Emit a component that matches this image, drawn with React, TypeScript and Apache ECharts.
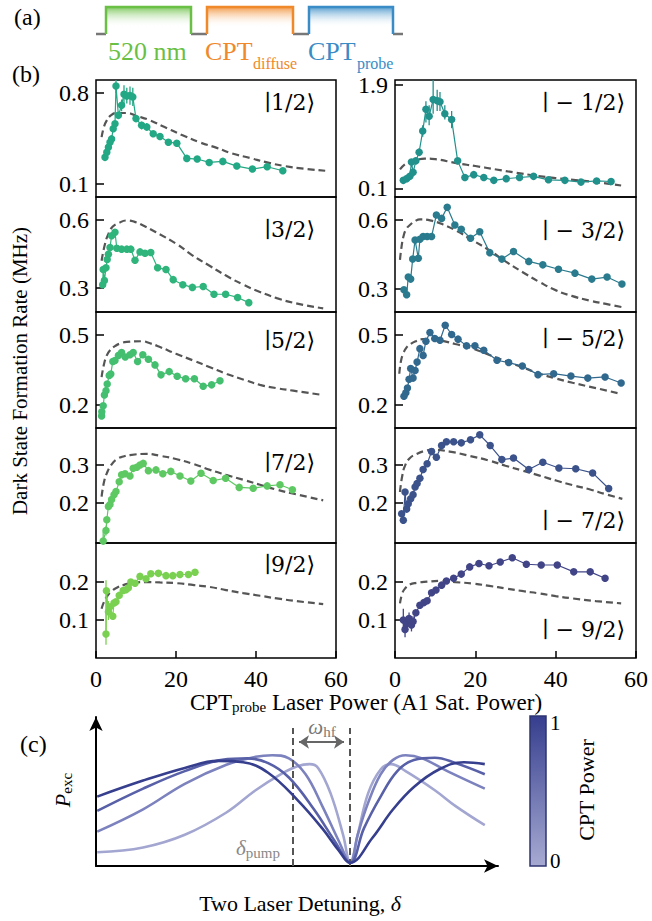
import React, { useEffect, useRef } from "react";
import * as echarts from "echarts";

const FONT = "'Liberation Serif','DejaVu Serif','Times New Roman',serif";

// ---------- x axis ----------
const xTickValues = [0, 20, 40, 60];

// ---------- measured dark state formation rates [power, MHz] ----------
const m_1_2 = [[2.25,0.305],[2.7,0.344],[3.1,0.383],[3.5,0.421],[3.9,0.447],[4.3,0.525],[4.75,0.564],[5.0,0.853],[5.6,0.628],[6.4,0.706],[7.0,0.79],[7.7,0.776],[8.5,0.78],[9.2,0.77],[10,0.603],[11.4,0.551],[12.7,0.538],[14.3,0.486],[16,0.466],[18.1,0.421],[20.2,0.414],[22.7,0.297],[25.3,0.292],[28.3,0.266],[31.7,0.274],[35.2,0.238],[39.1,0.215],[42.8,0.233],[46.7,0.202]];
const m_m1_2 = [[2.07,0.24],[2.9,0.27],[3.7,0.31],[4.1,0.56],[4.5,0.38],[5.2,0.58],[6.0,0.73],[6.9,1.10],[7.7,1.48],[8.5,1.36],[9.5,1.65],[10.5,1.63],[11.2,1.61],[12.4,1.40],[14.1,1.30],[15.6,0.58],[17.4,0.29],[19.6,0.34],[22.1,0.29],[24.6,0.24],[27.7,0.27],[31.0,0.29],[34.5,0.31],[38.2,0.25],[42.3,0.24],[46.3,0.21],[50.2,0.23],[53.8,0.22]];
const m_3_2 = [[1.67,0.315],[1.8,0.382],[2.1,0.333],[2.5,0.389],[2.8,0.426],[3.1,0.449],[3.5,0.478],[3.9,0.530],[4.75,0.545],[5.2,0.475],[6.4,0.471],[7.7,0.471],[8.7,0.471],[9.75,0.422],[11,0.459],[12.25,0.453],[13.7,0.456],[15.4,0.389],[17.5,0.382],[19.3,0.337],[21.7,0.315],[24.1,0.303],[26.8,0.307],[29.5,0.273],[32.4,0.273],[35.4,0.259],[38.2,0.236]];
const m_m3_2 = [[2.23,0.297],[2.9,0.275],[3.3,0.352],[3.9,0.343],[4.4,0.430],[5.0,0.513],[5.8,0.434],[6.2,0.516],[7.0,0.528],[8.0,0.528],[9.1,0.528],[10.3,0.622],[11.6,0.607],[13.0,0.655],[14.9,0.578],[16.5,0.560],[18.8,0.521],[21.1,0.549],[23.6,0.458],[26.6,0.430],[29.5,0.463],[33.3,0.420],[36.8,0.405],[40.7,0.386],[44.8,0.369],[49.0,0.343],[52.8,0.352],[56.5,0.322]];
const m_5_2 = [[1.4,0.152],[1.45,0.17],[1.8,0.196],[2.1,0.242],[2.5,0.261],[2.8,0.29],[3.3,0.326],[3.7,0.333],[4.2,0.387],[4.75,0.391],[5.6,0.413],[6.4,0.425],[7.3,0.406],[8.5,0.416],[9.3,0.425],[10.4,0.387],[11.7,0.416],[13.1,0.396],[14.75,0.372],[16.25,0.329],[18.3,0.343],[20.3,0.323],[22.4,0.312],[24.6,0.312],[26.8,0.28],[28.9,0.286],[31,0.304]];
const m_m5_2 = [[2.23,0.237],[2.7,0.252],[3.1,0.272],[3.5,0.31],[3.9,0.356],[4.5,0.315],[5.0,0.348],[5.5,0.384],[6.2,0.442],[7.0,0.413],[7.7,0.474],[8.7,0.512],[9.9,0.486],[11.2,0.478],[12.5,0.543],[14.1,0.503],[15.7,0.483],[17.8,0.454],[19.9,0.454],[22.1,0.435],[25.4,0.392],[28.3,0.382],[31.7,0.367],[35.6,0.33],[39.5,0.334],[43.8,0.324],[48.0,0.315],[52.3,0.32],[56.3,0.294]];
const m_7_2 = [[1.8,0.10],[2.5,0.128],[2.7,0.156],[3.1,0.191],[3.5,0.196],[3.9,0.209],[4.5,0.222],[5.0,0.23],[5.8,0.256],[6.4,0.274],[7.25,0.277],[8.5,0.271],[9.3,0.291],[10.2,0.294],[11,0.30],[11.8,0.304],[13.1,0.285],[15,0.287],[16.7,0.277],[18.7,0.283],[21,0.271],[23.7,0.258],[26.25,0.278],[29.3,0.259],[32.4,0.265],[35.8,0.241],[39.3,0.239],[42.8,0.245],[46,0.248],[49.1,0.235]];
const m_m7_2 = [[1.65,0.171],[2.07,0.154],[2.5,0.228],[2.9,0.183],[3.3,0.197],[3.9,0.21],[4.5,0.221],[5.0,0.241],[5.5,0.25],[6.2,0.264],[7.0,0.287],[8.0,0.302],[9.1,0.334],[10.3,0.319],[11.6,0.35],[12.8,0.36],[14.6,0.36],[16.5,0.357],[18.8,0.365],[21.1,0.378],[23.7,0.35],[26.6,0.313],[29.5,0.317],[33.3,0.287],[36.8,0.306],[40.8,0.291],[45,0.289],[49.2,0.278],[53.2,0.237]];
const m_9_2 = [[2.5,0.063],[2.6,0.177],[3.1,0.122],[3.5,0.135],[4.2,0.11],[4.5,0.145],[5.0,0.148],[5.8,0.165],[6.8,0.178],[7.5,0.18],[8.1,0.185],[8.7,0.20],[9.75,0.197],[11,0.215],[12.5,0.209],[13.7,0.222],[15.6,0.223],[17.5,0.217],[19.2,0.217],[21,0.22],[23.1,0.22],[24.75,0.226]];
const m_m9_2 = [[2.07,0.1],[2.5,0.075],[2.9,0.091],[3.5,0.104],[4.1,0.087],[4.5,0.096],[5.2,0.119],[6.2,0.139],[7.2,0.146],[8.0,0.151],[9.1,0.172],[10.2,0.179],[11.6,0.192],[12.8,0.203],[14.6,0.21],[16.5,0.221],[18.6,0.24],[20.9,0.249],[23.4,0.243],[26.2,0.253],[29.2,0.264],[32.7,0.247],[36.4,0.245],[40.4,0.245],[44.5,0.227],[48.6,0.227],[52.3,0.21]];

// ---------- error bars [power, low, high] ----------
const e_1_2 = [[5.0,0.80,0.90],[6.4,0.66,0.75],[7.0,0.72,0.86],[7.7,0.72,0.84],[8.5,0.71,0.85],[9.2,0.70,0.84],[11.4,0.52,0.58],[12.7,0.51,0.57]];
const e_m1_2 = [[5.2,0.52,0.64],[6.0,0.66,0.80],[6.9,1.0,1.2],[7.7,1.25,1.62],[8.5,1.2,1.55],[9.5,1.4,2.0],[10.5,1.45,1.82],[11.2,1.45,1.78],[12.4,1.3,1.55],[14.1,1.15,1.45]];
const e_7_2 = [[1.8,0.09,0.125],[2.5,0.115,0.14]];
const e_9_2 = [[2.5,0.035,0.205],[3.1,0.1,0.15]];
const e_m9_2 = [[2.07,0.07,0.13],[2.5,0.055,0.1],[2.9,0.07,0.11],[3.5,0.085,0.12],[4.1,0.07,0.1],[4.5,0.08,0.11]];

// ---------- theory (dashed) ----------
const th_1_2 = [[1.4,0.46],[2,0.54],[2.7,0.59],[3.8,0.63],[5.2,0.646],[7.7,0.646],[10,0.625],[13.5,0.59],[17,0.54],[21.8,0.473],[26,0.42],[30.2,0.378],[34,0.335],[38.5,0.30],[42.5,0.268],[46.8,0.24],[52,0.218],[57.3,0.202]];
const th_m1_2 = [[1.24,0.43],[2.5,0.52],[3.7,0.56],[5.5,0.60],[7.4,0.62],[10,0.61],[15.3,0.54],[20,0.49],[25.2,0.43],[30,0.375],[35.2,0.32],[40,0.28],[45.9,0.24],[51,0.2],[56.3,0.15]];
const th_3_2 = [[1.4,0.42],[2.2,0.49],[3.1,0.538],[4.2,0.57],[5.6,0.585],[7.7,0.597],[9.5,0.592],[11.8,0.575],[15,0.545],[20.2,0.493],[24,0.445],[28.5,0.397],[32.5,0.355],[36.8,0.315],[41,0.283],[45.2,0.256],[50,0.233],[56.8,0.211]];
const th_m3_2 = [[1.24,0.427],[1.6,0.48],[2.1,0.528],[2.8,0.56],[3.7,0.578],[5,0.595],[6.2,0.603],[9.1,0.597],[12,0.58],[15.3,0.553],[19.5,0.51],[23.6,0.467],[27.5,0.42],[31.8,0.373],[36,0.33],[40.1,0.294],[44,0.27],[48.4,0.25],[52.5,0.235],[56.6,0.221]];
const th_5_2 = [[1.4,0.319],[2,0.375],[2.7,0.413],[3.6,0.437],[4.75,0.453],[6,0.464],[7.7,0.471],[11.4,0.474],[13.5,0.465],[16,0.449],[20,0.42],[24.3,0.391],[28.5,0.362],[32.7,0.333],[37,0.308],[41,0.286],[45,0.272],[49.3,0.261],[56.8,0.242]];
const th_m5_2 = [[1.07,0.334],[1.5,0.39],[2.06,0.421],[2.8,0.445],[3.7,0.46],[5,0.473],[7.0,0.483],[9,0.483],[11.2,0.478],[15,0.462],[19.4,0.442],[23.5,0.415],[27.7,0.387],[32,0.36],[36,0.334],[40,0.314],[44.2,0.295],[50,0.272],[56.3,0.247]];
const th_7_2 = [[1.4,0.217],[2,0.255],[2.7,0.278],[3.8,0.3],[5.2,0.315],[6.8,0.322],[8.5,0.326],[12.7,0.329],[16,0.324],[20.2,0.315],[24.5,0.302],[28.5,0.287],[32.5,0.274],[36.8,0.261],[41,0.248],[45.2,0.235],[50,0.223],[56.8,0.207]];
const th_m7_2 = [[1.24,0.228],[1.8,0.27],[2.5,0.297],[3.6,0.316],[5.4,0.328],[7.5,0.336],[9.5,0.339],[13.6,0.334],[18.5,0.323],[23.6,0.31],[27.5,0.297],[31.8,0.284],[36,0.271],[40.1,0.258],[44.2,0.246],[48.4,0.235],[52.5,0.222],[56.6,0.21]];
const th_9_2 = [[1.4,0.13],[2,0.148],[2.7,0.161],[3.8,0.175],[5.2,0.185],[6.8,0.192],[8.5,0.197],[12.7,0.20],[16,0.199],[20.2,0.197],[24.5,0.192],[28.5,0.187],[32.5,0.179],[36.8,0.171],[41,0.164],[45.2,0.157],[50,0.15],[56.8,0.142]];
const th_m9_2 = [[1.24,0.144],[1.8,0.17],[2.5,0.183],[3.6,0.193],[5.4,0.198],[8,0.201],[11.2,0.203],[15,0.2],[19.4,0.196],[23.5,0.19],[27.7,0.183],[32,0.176],[36,0.17],[40,0.163],[44.2,0.157],[50,0.15],[56.3,0.144]];

// ---------- y ticks per panel ----------
const yt_1_2 = [0.1, 0.8];
const yt_m1_2 = [0.1, 1.9];
const yt_3_2 = [0.3, 0.6];
const yt_5_2 = [0.2, 0.5];
const yt_7_2 = [0.2, 0.3];
const yt_9_2 = [0.1, 0.2];

// ---------- state labels ----------
const stateLabels = ["1/2", " − 1/2", "3/2", " − 3/2", "5/2", " − 5/2", "7/2", " − 7/2", "9/2", " − 9/2"];

// ---------- panel (c) schematic curves [detuning, P_exc] (low -> high CPT power) ----------
const c_p0 = [[1.25,13.7],[47.1,18.5],[88.8,31.2],[130.4,53.5],[159.6,75.8],[184.6,91.7],[201.3,99.7],[213.8,101.9],[222.1,98.1],[234.6,72.6],[247.1,31.2],[254.2,3.2],[261.7,31.2],[272.1,72.6],[284.6,96.5],[295.0,101.9],[309.6,94.9],[338.8,75.8],[359.6,59.9],[388.8,40.8]];
const c_p1 = [[1.25,34.4],[47.1,56.7],[88.8,82.2],[130.4,101.3],[159.6,109.2],[176.3,110.8],[192.9,107.6],[209.6,91.7],[226.3,59.9],[242.9,24.8],[254.2,3.2],[261.7,31.2],[272.1,63.1],[284.6,91.7],[297.1,106.1],[309.6,110.8],[326.3,107.6],[351.3,94.9],[388.8,77.4]];
const c_p2 = [[1.25,55.1],[47.1,77.4],[88.8,94.9],[126.3,106.1],[151.3,107.6],[172.1,102.9],[192.9,88.5],[217.9,56.7],[238.8,24.8],[254.2,3.2],[267.9,37.6],[284.6,69.4],[301.3,94.9],[317.9,106.1],[338.8,108.3],[359.6,102.9],[388.8,91.7]];
const c_p3 = [[1.25,69.4],[47.1,85.4],[88.8,98.1],[122.1,105.1],[147.1,103.8],[172.1,93.3],[201.3,66.2],[226.3,37.6],[242.9,15.3],[254.2,3.2],[276.3,28],[297.1,56.7],[317.9,79],[342.9,96.5],[367.9,103.8],[388.8,101.9]];
const c_pumpX = 197;
const c_dipX = 254;
const cbTicks = ["1", "0"];

function buildOption() {
  const rowTop = [80, 197, 312, 428, 543];
  const rowH = [117, 115, 116, 115, 115];
  const colLeft = [96, 395];
  const colW = [240, 241];

  const panels = [
    { m: m_1_2, th: th_1_2, e: e_1_2, color: "#22a884", yMin: 0, yMax: 0.9, yt: yt_1_2, row: 0, col: 0, ly: 102 },
    { m: m_m1_2, th: th_m1_2, e: e_m1_2, color: "#21918c", yMin: -0.05, yMax: 1.99, yt: yt_m1_2, row: 0, col: 1, ly: 102 },
    { m: m_3_2, th: th_3_2, e: [], color: "#2fb47c", yMin: 0.195, yMax: 0.7, yt: yt_3_2, row: 1, col: 0, ly: 229 },
    { m: m_m3_2, th: th_m3_2, e: [], color: "#2a7b8e", yMin: 0.2, yMax: 0.7, yt: yt_3_2, row: 1, col: 1, ly: 230 },
    { m: m_5_2, th: th_5_2, e: [], color: "#44bf70", yMin: 0.1, yMax: 0.6, yt: yt_5_2, row: 2, col: 0, ly: 340 },
    { m: m_m5_2, th: th_m5_2, e: [], color: "#31688e", yMin: 0.1, yMax: 0.6, yt: yt_5_2, row: 2, col: 1, ly: 338 },
    { m: m_7_2, th: th_7_2, e: e_7_2, color: "#5ec962", yMin: 0.095, yMax: 0.397, yt: yt_7_2, row: 3, col: 0, ly: 462 },
    { m: m_m7_2, th: th_m7_2, e: [], color: "#3b528b", yMin: 0.094, yMax: 0.396, yt: yt_7_2, row: 3, col: 1, ly: 520 },
    { m: m_9_2, th: th_9_2, e: e_9_2, color: "#7ad151", yMin: 0, yMax: 0.303, yt: yt_9_2, row: 4, col: 0, ly: 564 },
    { m: m_m9_2, th: th_m9_2, e: e_m9_2, color: "#414487", yMin: 0, yMax: 0.303, yt: yt_9_2, row: 4, col: 1, ly: 629 },
  ];

  const grids: any[] = [];
  const xAxes: any[] = [];
  const yAxes: any[] = [];
  const series: any[] = [];
  const graphics: any[] = [];

  panels.forEach((p, i) => {
    grids.push({
      left: colLeft[p.col], top: rowTop[p.row], width: colW[p.col], height: rowH[p.row],
      show: true, borderColor: "#000", borderWidth: 1.5, backgroundColor: "transparent",
    });
    const bottom = p.row === 4;
    xAxes.push({
      gridIndex: i, type: "value", min: 0, max: 60, interval: 20,
      axisLine: { show: false }, splitLine: { show: false },
      axisTick: { show: bottom, inside: true, length: 7, customValues: xTickValues, lineStyle: { color: "#000", width: 1.5 } },
      axisLabel: { show: bottom, customValues: xTickValues, fontSize: 24, fontFamily: FONT, color: "#000", margin: 9 },
    });
    yAxes.push({
      gridIndex: i, type: "value", min: p.yMin, max: p.yMax,
      axisLine: { show: false }, splitLine: { show: false },
      axisTick: { show: true, inside: true, length: 8, customValues: p.yt, lineStyle: { color: "#000", width: 1.5 } },
      axisLabel: { customValues: p.yt, fontSize: 24, fontFamily: FONT, color: "#000", margin: 7, formatter: (v: number) => String(v) },
    });
    series.push({
      type: "line", xAxisIndex: i, yAxisIndex: i, data: p.th, smooth: 0.5, showSymbol: false, symbol: "none",
      lineStyle: { color: "#555", width: 2.2, type: [7, 4] }, z: 2, silent: true,
    });
    if (p.e.length) {
      const col = p.color;
      series.push({
        type: "custom", xAxisIndex: i, yAxisIndex: i, data: p.e, clip: true, z: 3, silent: true,
        encode: { x: 0, y: [1, 2] },
        renderItem: (params: any, api: any) => {
          const a = api.coord([api.value(0), api.value(1)]);
          const b = api.coord([api.value(0), api.value(2)]);
          return { type: "line", shape: { x1: a[0], y1: a[1], x2: b[0], y2: b[1] }, style: { stroke: col, lineWidth: 1.3 } };
        },
      });
    }
    series.push({
      type: "line", xAxisIndex: i, yAxisIndex: i, data: p.m, symbol: "circle", symbolSize: 7.5, showSymbol: true,
      itemStyle: { color: p.color }, lineStyle: { color: p.color, width: 1.2 }, z: 4, silent: true,
    });
    graphics.push({
      type: "text", x: p.col === 0 ? 315 : 625, y: p.ly, z: 10,
      style: {
        text: "{k|\u2223" + stateLabels[i] + "\u27E9}", textAlign: "right", textVerticalAlign: "middle",
        rich: { k: { fontSize: 22, fontFamily: "'DejaVu Serif','Liberation Serif',serif", fill: "#000" } },
      },
    });
  });

  // ---------- panel (c) ----------
  const ci = panels.length;
  grids.push({ left: 96, top: 717, width: 402, height: 149, show: false });
  xAxes.push({
    gridIndex: ci, type: "value", min: 0, max: 402,
    axisLine: { show: true, onZero: false, symbol: ["none", "arrow"], symbolSize: [10, 14], lineStyle: { color: "#000", width: 2 } },
    axisTick: { show: false }, axisLabel: { show: false }, splitLine: { show: false },
  });
  yAxes.push({
    gridIndex: ci, type: "value", min: 0, max: 149,
    axisLine: { show: true, onZero: false, symbol: ["none", "arrow"], symbolSize: [10, 14], lineStyle: { color: "#000", width: 2 } },
    axisTick: { show: false }, axisLabel: { show: false }, splitLine: { show: false },
  });
  const cColors = ["#a2a6d0", "#7c82be", "#5860a8", "#363e8e"];
  [c_p0, c_p1, c_p2, c_p3].forEach((d, k) => {
    const s: any = {
      type: "line", xAxisIndex: ci, yAxisIndex: ci, data: d, smooth: 0.4, showSymbol: false, symbol: "none",
      lineStyle: { color: cColors[k], width: 2.6 }, z: 3 + k, silent: true,
    };
    if (k === 0) {
      s.markLine = {
        silent: true, symbol: "none", animation: false, label: { show: false },
        lineStyle: { type: [7, 4], color: "#555", width: 2 },
        data: [
          [{ coord: [c_pumpX, 0] }, { coord: [c_pumpX, 138] }],
          [{ coord: [c_dipX, 0] }, { coord: [c_dipX, 138] }],
        ],
      };
    }
    if (k === 1) {
      s.markLine = {
        silent: true, symbol: ["arrow", "arrow"], symbolSize: 10, animation: false, label: { show: false },
        lineStyle: { type: "solid", color: "#666", width: 2.2 },
        data: [[{ coord: [c_pumpX + 6, 124] }, { coord: [c_dipX - 6, 124] }]],
      };
    }
    series.push(s);
  });

  // ---------- (a) pulse sequence ----------
  const pulses = [
    { x0: 106, x1: 191, color: "#6abf45", rgba: "rgba(106,191,69,0.85)" },
    { x0: 207, x1: 293, color: "#f0892a", rgba: "rgba(240,137,42,0.85)" },
    { x0: 309, x1: 393, color: "#3a8cc6", rgba: "rgba(58,140,198,0.85)" },
  ];
  const baseY = 34, topY = 7;
  const segs = [[96, 106], [191, 207], [293, 309], [393, 403]];
  segs.forEach(([a, b]) => graphics.push({ type: "line", shape: { x1: a, y1: baseY, x2: b, y2: baseY }, style: { stroke: "#777", lineWidth: 2.5 } }));
  pulses.forEach((p) => {
    graphics.push({
      type: "rect", shape: { x: p.x0, y: topY, width: p.x1 - p.x0, height: baseY - topY },
      style: { fill: { type: "linear", x: 0, y: 0, x2: 0, y2: 1, colorStops: [{ offset: 0, color: p.rgba }, { offset: 0.75, color: "rgba(255,255,255,0)" }] } },
    });
    graphics.push({
      type: "polyline", shape: { points: [[p.x0, baseY], [p.x0, topY], [p.x1, topY], [p.x1, baseY]] },
      style: { stroke: p.color, lineWidth: 2.5, fill: null },
    });
  });
  const txt = (x: number, y: number, text: string, size: number, fill: string, extra: any = {}) => ({
    type: "text", x, y, z: 10,
    style: { text, fontSize: size, fontFamily: FONT, fill, textAlign: "left", textVerticalAlign: "middle", ...extra },
  });
  graphics.push(txt(14, 17, "(a)", 24, "#000"));
  graphics.push(txt(12, 74, "(b)", 24, "#000"));
  graphics.push(txt(20, 744, "(c)", 24, "#000"));
  graphics.push(txt(108, 51, "520 nm", 26, "#6abf45"));
  graphics.push(txt(205, 51, "CPT", 26, "#f0892a"));
  graphics.push(txt(253, 63, "diffuse", 16, "#f0892a"));
  graphics.push(txt(308, 51, "CPT", 26, "#3a8cc6"));
  graphics.push(txt(357, 63, "probe", 16, "#3a8cc6"));

  // axis titles
  graphics.push({
    type: "text", x: 20, y: 371, rotation: Math.PI / 2, z: 10,
    style: { text: "Dark State Formation Rate (MHz)", fontSize: 21, fontFamily: FONT, fill: "#000", textAlign: "center", textVerticalAlign: "middle" },
  });
  graphics.push({
    type: "text", x: 366, y: 702, z: 10,
    style: {
      text: "{n|CPT}{s|probe}{n| Laser Power (A1 Sat. Power)}", textAlign: "center", textVerticalAlign: "middle",
      rich: { n: { fontSize: 23, fontFamily: FONT, fill: "#000" }, s: { fontSize: 15, fontFamily: FONT, fill: "#000", padding: [10, 0, 0, 0] } },
    },
  });

  // panel (c) texts
  graphics.push({
    type: "text", x: 322, y: 727, z: 10,
    style: {
      text: "{w|ω}{s|hf}", textAlign: "center", textVerticalAlign: "middle",
      rich: { w: { fontSize: 21, fontStyle: "italic", fontFamily: FONT, fill: "#777" }, s: { fontSize: 15, fontFamily: FONT, fill: "#777", padding: [9, 0, 0, 0] } },
    },
  });
  graphics.push({
    type: "text", x: 258, y: 848, z: 10,
    style: {
      text: "{w|δ}{s|pump}", textAlign: "center", textVerticalAlign: "middle",
      rich: { w: { fontSize: 21, fontStyle: "italic", fontFamily: FONT, fill: "#888" }, s: { fontSize: 15, fontFamily: FONT, fill: "#888", padding: [9, 0, 0, 0] } },
    },
  });
  graphics.push({
    type: "text", x: 62, y: 790, rotation: Math.PI / 2, z: 10,
    style: {
      text: "{w|P}{s|exc}", textAlign: "center", textVerticalAlign: "middle",
      rich: { w: { fontSize: 22, fontStyle: "italic", fontFamily: FONT, fill: "#000" }, s: { fontSize: 15, fontFamily: FONT, fill: "#000", padding: [9, 0, 0, 0] } },
    },
  });
  graphics.push({
    type: "text", x: 300, y: 903, z: 10,
    style: {
      text: "{n|Two Laser Detuning, }{i|δ}", textAlign: "center", textVerticalAlign: "middle",
      rich: { n: { fontSize: 22, fontFamily: FONT, fill: "#000" }, i: { fontSize: 22, fontStyle: "italic", fontFamily: FONT, fill: "#000" } },
    },
  });

  // colorbar
  graphics.push({
    type: "rect", shape: { x: 530, y: 716, width: 16, height: 150 }, z: 10,
    style: {
      fill: { type: "linear", x: 0, y: 0, x2: 0, y2: 1, colorStops: [{ offset: 0, color: "#363e8e" }, { offset: 1, color: "#a6aad2" }] },
      stroke: "#2e3470", lineWidth: 1.5,
    },
  });
  graphics.push(txt(550, 723, cbTicks[0], 21, "#000"));
  graphics.push(txt(550, 861, cbTicks[1], 21, "#000"));
  graphics.push({
    type: "text", x: 586, y: 790, rotation: Math.PI / 2, z: 10,
    style: { text: "CPT Power", fontSize: 22, fontFamily: FONT, fill: "#000", textAlign: "center", textVerticalAlign: "middle" },
  });

  return {
    animation: false,
    backgroundColor: "#fff",
    grid: grids,
    xAxis: xAxes,
    yAxis: yAxes,
    series,
    graphic: { elements: graphics },
  };
}

export default function App() {
  const ref = useRef<HTMLDivElement>(null);
  useEffect(() => {
    document.body.style.margin = "0";
    const chart = echarts.init(ref.current as HTMLDivElement, null, { renderer: "svg" });
    chart.setOption(buildOption() as any);
    return () => chart.dispose();
  }, []);
  return <div ref={ref} style={{ position: "absolute", left: 0, top: 0, width: 652, height: 921, background: "#fff" }} />;
}
